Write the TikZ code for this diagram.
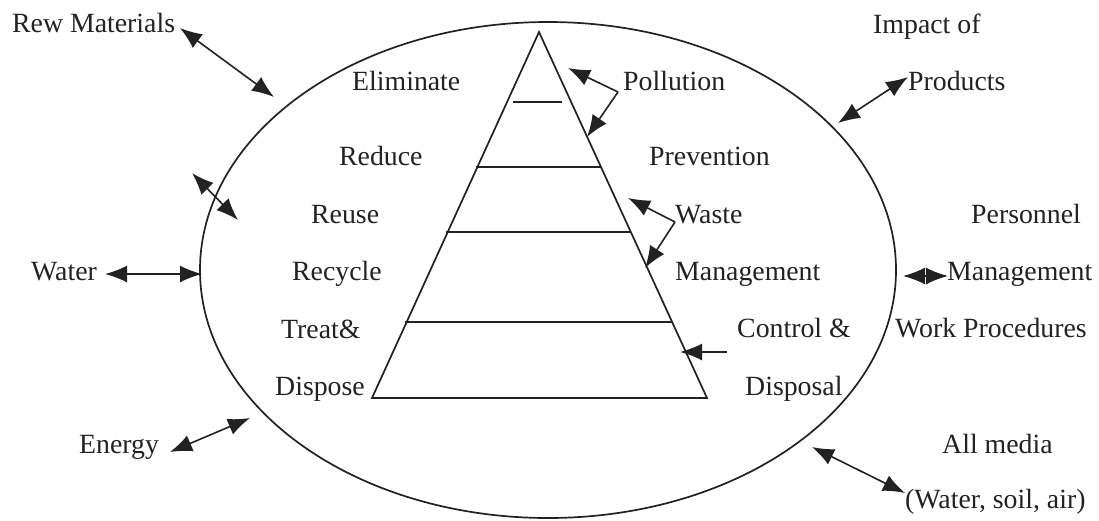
\documentclass[tikz,border=0pt]{standalone}
\usepackage{fontspec}
\setmainfont{Liberation Serif}
\usetikzlibrary{arrows.meta}
\definecolor{ink}{HTML}{222222}
\tikzset{
  headtip/.tip={Latex[length=22pt,width=17pt,fill=ink]},
}
\begin{document}
\begin{tikzpicture}[x=1pt,y=-1pt,
  lbl/.style={anchor=base west,inner sep=0pt,text=ink,font=\fontsize{27.8}{30}\selectfont},
  outline/.style={draw=ink,line width=1.7pt},
  rung/.style={draw=ink,line width=1.6pt},
  link/.style={draw=ink,line width=1.6pt,headtip-headtip},
  onelink/.style={draw=ink,line width=1.6pt,-headtip}]
\useasboundingbox (0,0) rectangle (1099,520);
\fill[white] (0,0) rectangle (1099,520);

% outer system boundary
\draw[outline] (548,270) ellipse [x radius=348, y radius=248];

% waste hierarchy pyramid
\coordinate (apex) at (539,32);
\coordinate (bl) at (372,398);
\coordinate (br) at (707,398);
\draw[outline,line join=miter] (apex) -- (bl) -- (br) -- cycle;
\draw[rung] (513,102) -- (562,102);
\draw[rung] (476,167) -- (601,167);
\draw[rung] (446,232) -- (631,232);
\draw[rung] (405,322) -- (673,322);

% hierarchy levels
\node[lbl] (elim)  at (352,90)  {Eliminate};
\node[lbl] (red)   at (339,165) {Reduce};
\node[lbl] (reuse) at (311,223) {Reuse};
\node[lbl] (recy)  at (292,280) {Recycle};
\node[lbl] (treat) at (281,338) {Treat\&};
\node[lbl] (disp)  at (275,395) {Dispose};

% strategies on the right of the pyramid
\node[lbl] (poll)  at (623,90)  {Pollution};
\node[lbl] (prev)  at (649,165) {Prevention};
\node[lbl] (waste) at (675,223) {Waste};
\node[lbl] (mgmt)  at (675,280) {Management};
\node[lbl] (ctrl)  at (737,337) {Control \&};
\node[lbl] (displ) at (745,395) {Disposal};

% inputs and impacts outside the boundary
\node[lbl] (raw)    at (12,32)   {Rew Materials};
\node[lbl] (water)  at (31,280)  {Water};
\node[lbl] (energy) at (79,453)  {Energy};
\node[lbl] (impact) at (873,33)  {Impact of};
\node[lbl] (prod)   at (908,90)  {Products};
\node[lbl] (pers)   at (971,223) {Personnel};
\node[lbl] (pmgmt)  at (947,280) {Management};
\node[lbl] (work)   at (895,337) {Work Procedures};
\node[lbl] (media)  at (942,453) {All media};
\node[lbl] (wsa)    at (905,508) {(Water, soil, air)};

% arrow end points
\coordinate (rawA) at (180,28);   \coordinate (rawB) at (274,97);
\coordinate (ruA)  at (192,173);  \coordinate (ruB)  at (238,220);
\coordinate (waA)  at (105,274);  \coordinate (waB)  at (202,274);
\coordinate (enA)  at (170,452);  \coordinate (enB)  at (250,418);
\coordinate (prA)  at (838,123);  \coordinate (prB)  at (908,77);
\coordinate (pmA)  at (903,276);  \coordinate (pmB)  at (948,276);
\coordinate (meA)  at (812,447);  \coordinate (meB)  at (905,493);
\coordinate (poJ)  at (618,92);
\coordinate (poA)  at (568,68);   \coordinate (poB)  at (587,137);
\coordinate (wsJ)  at (675,222);
\coordinate (wsA)  at (628,198);  \coordinate (wsB)  at (645,268);
\coordinate (ctA)  at (727,352);  \coordinate (ctB)  at (680,352);

% two-way exchanges across the boundary
\draw[link] (rawA) -- (rawB);
\draw[link] (ruA) -- (ruB);
\draw[link] (waA) -- (waB);
\draw[link] (enA) -- (enB);
\draw[link] (prA) -- (prB);
\draw[link] (pmA) -- (pmB);
\draw[link] (meA) -- (meB);

% pointers onto the pyramid
\draw[onelink] (poJ) -- (poA);
\draw[onelink] (poJ) -- (poB);
\draw[onelink] (wsJ) -- (wsA);
\draw[onelink] (wsJ) -- (wsB);
\draw[onelink] (ctA) -- (ctB);
\end{tikzpicture}
\end{document}
